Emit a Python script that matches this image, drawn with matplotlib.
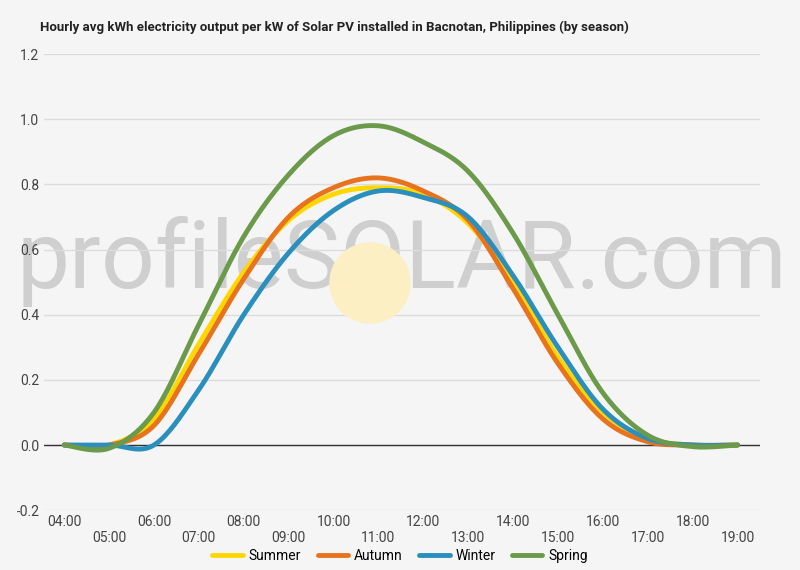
import numpy as np
import matplotlib.pyplot as plt
from matplotlib.patches import Ellipse

plt.rcParams['font.family'] = ['Roboto', 'DejaVu Sans']

hours = list(range(4, 20))
summer = [0, 0, 0.08, 0.31, 0.53, 0.69, 0.77, 0.79, 0.77, 0.68, 0.50, 0.27, 0.10, 0.02, 0, 0]
autumn = [0, 0, 0.06, 0.28, 0.51, 0.70, 0.79, 0.82, 0.78, 0.69, 0.48, 0.25, 0.08, 0.01, 0, 0]
winter = [0, 0, 0.0, 0.17, 0.40, 0.59, 0.72, 0.78, 0.76, 0.70, 0.52, 0.30, 0.11, 0.02, 0, 0]
spring = [0, -0.01, 0.10, 0.37, 0.64, 0.83, 0.95, 0.98, 0.93, 0.84, 0.65, 0.40, 0.16, 0.03, -0.005, 0]
series = [('Summer', summer, '#ffd700'), ('Autumn', autumn, '#e8731e'),
          ('Winter', winter, '#2a8fbd'), ('Spring', spring, '#6a9a4a')]


def smooth(x, y, n=20):
    # Catmull-Rom curve through the hourly points
    x = np.asarray(x, float); y = np.asarray(y, float)
    xp = np.concatenate([[x[0]], x, [x[-1]]]); yp = np.concatenate([[y[0]], y, [y[-1]]])
    xs, ys = [], []
    for i in range(1, len(xp) - 2):
        t = np.linspace(0, 1, n, endpoint=False)
        for arr, out in ((xp, xs), (yp, ys)):
            p0, p1, p2, p3 = arr[i-1:i+3]
            out.extend(0.5 * ((2*p1) + (-p0+p2)*t + (2*p0-5*p1+4*p2-p3)*t**2 + (-p0+3*p1-3*p2+p3)*t**3))
    xs.append(x[-1]); ys.append(y[-1])
    return np.array(xs), np.array(ys)


bg = '#f5f5f5'
fig = plt.figure(figsize=(8, 5.7), dpi=100, facecolor=bg)
ax = fig.add_axes([0.055, 0.105, 0.895, 0.80], facecolor=bg)

# watermark: sun disc + text, placed in figure coords
fig.patches.append(Ellipse((370 / 800, 1 - 283 / 570), 80 / 800, 80 / 570, transform=fig.transFigure,
                           color='#fcefc4', zorder=0))
ax.text(0.5, 0.545, 'profileSOLAR.com', transform=ax.transAxes, fontsize=68, color='#cfcfcf',
        ha='center', va='center', zorder=0.5)

for name, vals, c in series:
    xs, ys = smooth(hours, vals)
    ax.plot(xs, ys, color=c, lw=3.5, label=name, zorder=3, solid_capstyle='round')

ax.set_xlim(3.55, 19.5)
ax.set_ylim(-0.2, 1.2)
ax.set_yticks(np.arange(-0.2, 1.21, 0.2))
ax.set_yticklabels(['%.1f' % v for v in np.arange(-0.2, 1.21, 0.2)])
ax.grid(axis='y', color='#dcdcdc', lw=1)
ax.axhline(0, color='#333333', lw=1, zorder=2)
ax.set_xticks(hours)
ax.set_xticklabels(['%02d:00' % h if h % 2 == 0 else '\n%02d:00' % h for h in hours])
ax.tick_params(length=0, labelsize=10, colors='#444444')
for s in ax.spines.values():
    s.set_visible(False)

fig.text(0.05, 0.945, 'Hourly avg kWh electricity output per kW of Solar PV installed in Bacnotan, Philippines (by season)',
         fontsize=9.5, fontweight='bold', color='#222222')
fig.legend(loc='lower center', ncol=4, frameon=False, bbox_to_anchor=(0.5, -0.01),
           handlelength=2.2, fontsize=10, columnspacing=1.2, handletextpad=0.4)

fig.savefig('out.png', dpi=100, facecolor=bg)
